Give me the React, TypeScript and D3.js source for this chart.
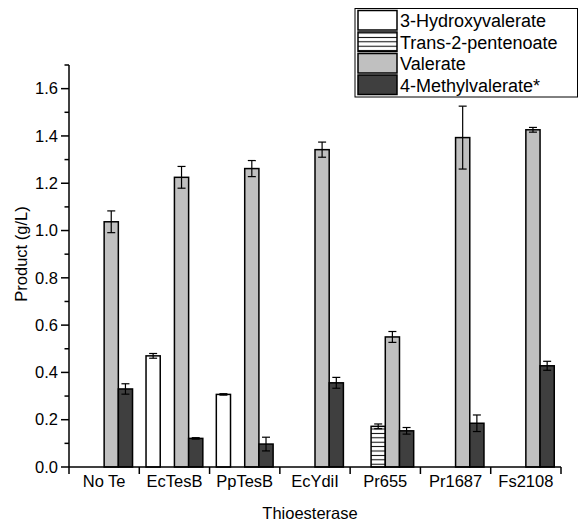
import React, { useEffect, useRef } from "react";
import * as d3 from "d3";

const categories = ["No Te", "EcTesB", "PpTesB", "EcYdiI", "Pr655", "Pr1687", "Fs2108"];
const seriesNames = ["3-Hydroxyvalerate", "Trans-2-pentenoate", "Valerate", "4-Methylvalerate*"];
// null = no bar
const hydroxyvalerate = [null, 0.470, 0.307, null, null, null, null];
const hydroxyvalerateErr = [null, 0.010, 0.003, null, null, null, null];
const pentenoate = [null, null, null, null, 0.172, null, null];
const pentenoateErr = [null, null, null, null, 0.010, null, null];
const valerate = [1.037, 1.225, 1.262, 1.342, 0.550, 1.393, 1.426];
const valerateErr = [0.046, 0.046, 0.034, 0.032, 0.023, 0.133, 0.010];
const methylvalerate = [0.330, 0.121, 0.097, 0.356, 0.153, 0.185, 0.428];
const methylvalerateErr = [0.022, 0.003, 0.029, 0.023, 0.014, 0.035, 0.019];
const yTicks = [0, 0.2, 0.4, 0.6, 0.8, 1.0, 1.2, 1.4, 1.6];
const yMinorTicks = [0.1, 0.3, 0.5, 0.7, 0.9, 1.1, 1.3, 1.5, 1.7];

const FONT = "'Liberation Sans', Arial, Helvetica, sans-serif";

export default function App() {
  const ref = useRef<SVGSVGElement>(null);
  useEffect(() => {
    document.body.style.margin = "0";
    const svg = d3.select(ref.current);
    svg.selectAll("*").remove();

    const W = 579, H = 524;
    const left = 69, right = 561, top = 65, bottom = 467;

    const defs = svg.append("defs");
    const pat = defs.append("pattern")
      .attr("id", "hatch")
      .attr("patternUnits", "userSpaceOnUse")
      .attr("width", 8).attr("height", 4.4);
    pat.append("rect").attr("width", 8).attr("height", 4.4).attr("fill", "#fff");
    pat.append("line").attr("x1", 0).attr("x2", 8).attr("y1", 2.2).attr("y2", 2.2)
      .attr("stroke", "#000").attr("stroke-width", 1);

    const fills = ["#ffffff", "url(#hatch)", "#c0c0c0", "#3f3f3f"];
    const values = [hydroxyvalerate, pentenoate, valerate, methylvalerate];
    const errs = [hydroxyvalerateErr, pentenoateErr, valerateErr, methylvalerateErr];

    const x = d3.scaleBand<string>().domain(categories).range([left, right]).padding(0);
    const xs = d3.scaleBand<number>().domain([0, 1, 2, 3]).range([0, x.bandwidth()])
      .paddingInner(0).paddingOuter(0.475);
    const y = d3.scaleLinear().domain([0, 1.7]).range([bottom, top]);

    const g = svg.append("g");

    // bars
    values.forEach((vals, si) => {
      vals.forEach((v, ci) => {
        if (v == null) return;
        const bx = (x(categories[ci]) as number) + (xs(si) as number);
        g.append("rect")
          .attr("x", bx).attr("y", y(v))
          .attr("width", xs.bandwidth()).attr("height", y(0) - y(v))
          .attr("fill", fills[si]).attr("stroke", "#000").attr("stroke-width", 1.5);
      });
    });
    // error bars
    values.forEach((vals, si) => {
      vals.forEach((v, ci) => {
        const e = errs[si][ci];
        if (v == null || e == null) return;
        const cx = (x(categories[ci]) as number) + (xs(si) as number) + xs.bandwidth() / 2;
        const eb = g.append("g").attr("stroke", "#000").attr("stroke-width", 1.2);
        eb.append("line").attr("x1", cx).attr("x2", cx).attr("y1", y(v + e)).attr("y2", y(v - e));
        eb.append("line").attr("x1", cx - 4).attr("x2", cx + 4).attr("y1", y(v + e)).attr("y2", y(v + e));
        eb.append("line").attr("x1", cx - 4).attr("x2", cx + 4).attr("y1", y(v - e)).attr("y2", y(v - e));
      });
    });

    // y axis
    const ya = svg.append("g").attr("stroke", "#000").attr("stroke-width", 1.5);
    ya.append("line").attr("x1", left).attr("x2", left).attr("y1", y(1.7)).attr("y2", bottom);
    yTicks.forEach(t => {
      ya.append("line").attr("x1", left - 8).attr("x2", left).attr("y1", y(t)).attr("y2", y(t));
    });
    yMinorTicks.forEach(t => {
      ya.append("line").attr("x1", left - 4.5).attr("x2", left).attr("y1", y(t)).attr("y2", y(t));
    });
    svg.append("g").selectAll("text").data(yTicks).join("text")
      .attr("x", 58).attr("y", d => y(d)).attr("dy", "0.35em")
      .attr("text-anchor", "end").attr("font-family", FONT).attr("font-size", 16.5)
      .attr("fill", "#000").text(d => d3.format(".1f")(d));

    // x axis
    const xa = svg.append("g").attr("stroke", "#000").attr("stroke-width", 1.5);
    xa.append("line").attr("x1", left).attr("x2", right).attr("y1", bottom).attr("y2", bottom);
    const bounds = categories.map(c => x(c) as number).concat([right]);
    bounds.forEach(b => {
      xa.append("line").attr("x1", b).attr("x2", b).attr("y1", bottom).attr("y2", bottom + 7);
    });
    svg.append("g").selectAll("text").data(categories).join("text")
      .attr("x", d => (x(d) as number) + x.bandwidth() / 2).attr("y", 487)
      .attr("text-anchor", "middle").attr("font-family", FONT).attr("font-size", 16.5)
      .attr("fill", "#000").text(d => d);

    // axis titles
    svg.append("text").attr("x", 310).attr("y", 519).attr("text-anchor", "middle")
      .attr("font-family", FONT).attr("font-size", 16.5).text("Thioesterase");
    svg.append("text").attr("transform", "translate(26.5,254) rotate(-90)")
      .attr("text-anchor", "middle").attr("font-family", FONT).attr("font-size", 16.5)
      .text("Product (g/L)");

    // legend
    const lg = svg.append("g");
    lg.append("rect").attr("x", 355).attr("y", 8.5).attr("width", 222.5).attr("height", 88.5)
      .attr("fill", "#fff").attr("stroke", "#000").attr("stroke-width", 1);
    const rowY = [10.5, 32, 53.5, 75];
    seriesNames.forEach((name, i) => {
      lg.append("rect").attr("x", 358).attr("y", rowY[i]).attr("width", 39).attr("height", 19.5)
        .attr("fill", fills[i]).attr("stroke", "#000").attr("stroke-width", 1.5);
      lg.append("text").attr("x", 400).attr("y", rowY[i] + 16.5)
        .attr("font-family", FONT).attr("font-size", 18).attr("fill", "#000").text(name);
    });
  }, []);
  return <svg ref={ref} width={579} height={524} style={{ display: "block", background: "#fff" }} />;
}
